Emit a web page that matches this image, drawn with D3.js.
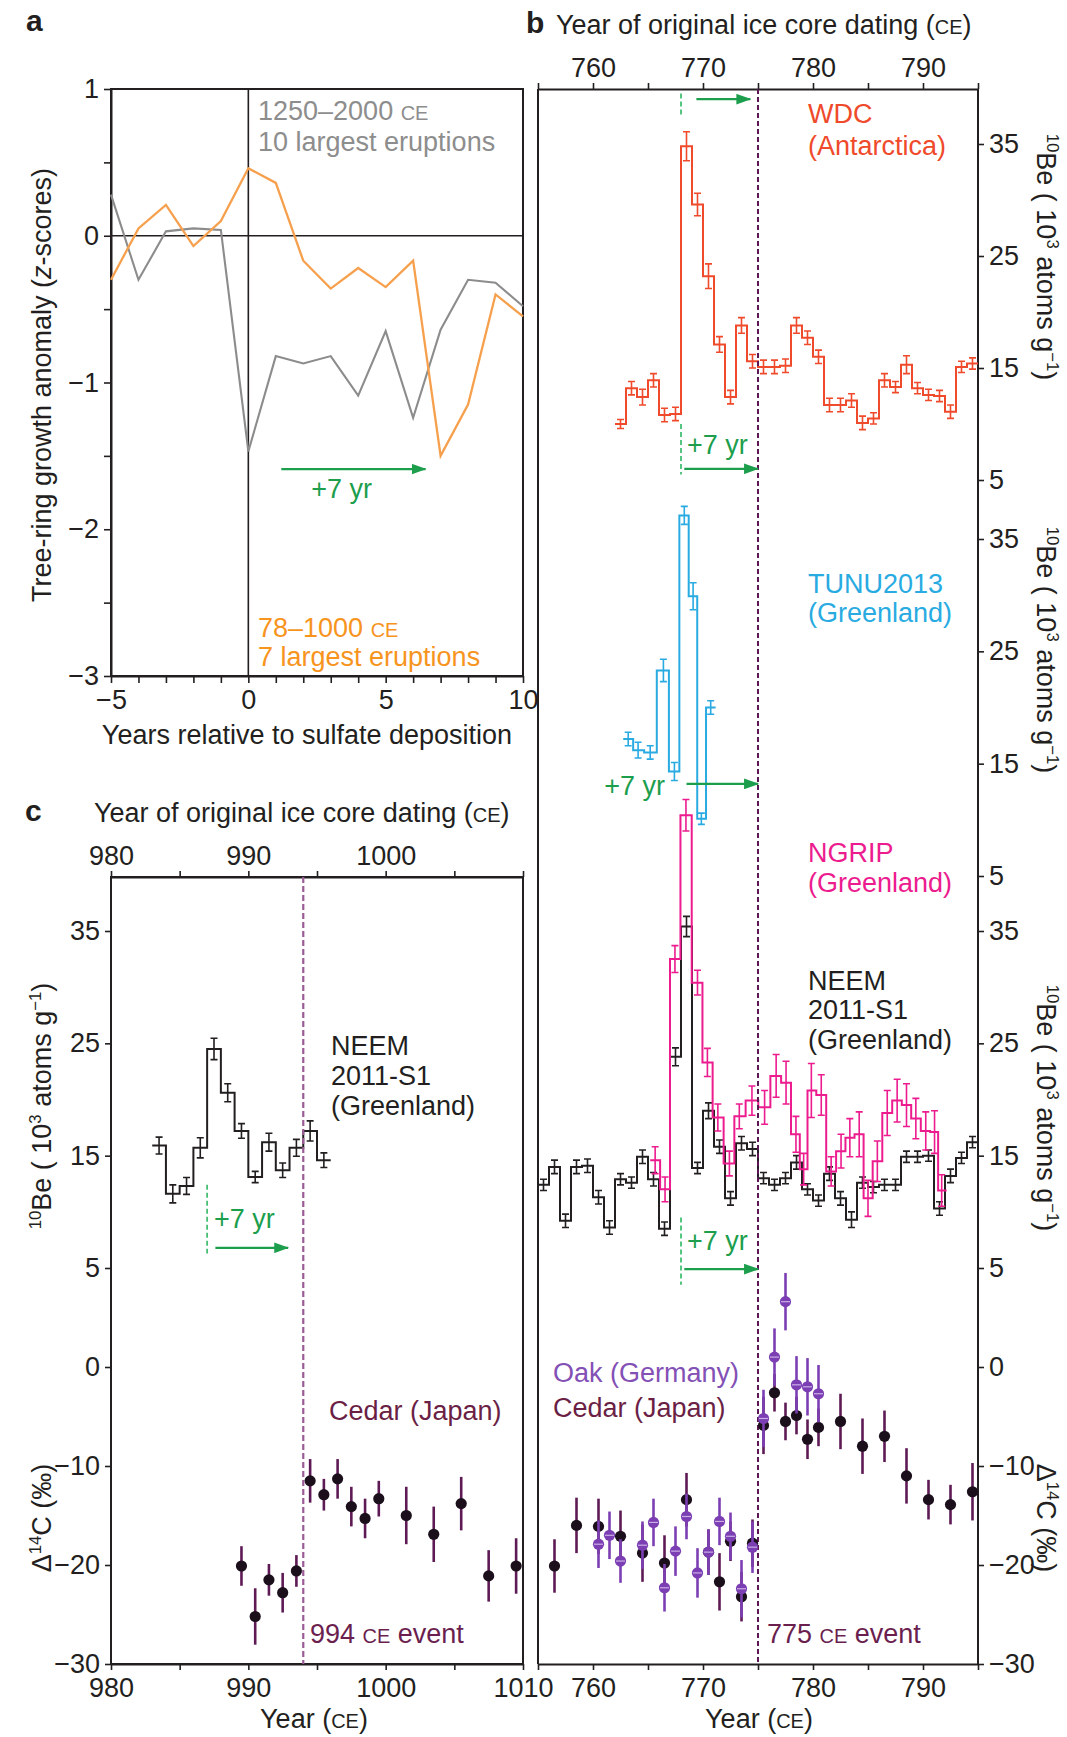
<!DOCTYPE html>
<html>
<head>
<meta charset="utf-8">
<script src="https://cdn.jsdelivr.net/npm/d3@7"></script>
<style>
  html, body { margin: 0; padding: 0; background: #fff; }
  svg { display: block; font-family: "Liberation Sans", Arial, Helvetica, sans-serif; }
</style>
</head>
<body>
<svg id="fig" width="1067" height="1737"></svg>
<script>
// ---------------- Panel a: superposed-epoch tree-ring composites (z-scores) ----------------
const epochYears = [-5, -4, -3, -2, -1, 0, 1, 2, 3, 4, 5, 6, 7, 8, 9, 10];
const recentComposite = [0.28, -0.30, 0.03, 0.05, 0.04, -1.47, -0.82, -0.87, -0.82, -1.09, -0.65, -1.24, -0.64, -0.30, -0.32, -0.48];
const earlyComposite = [-0.30, 0.05, 0.21, -0.07, 0.10, 0.46, 0.36, -0.17, -0.36, -0.22, -0.35, -0.17, -1.50, -1.15, -0.40, -0.55];
const epochTicks = [-5, -4, -3, -2, -1, 0, 1, 2, 3, 4, 5, 6, 7, 8, 9, 10];
const epochTickLabels = [-5, 0, 5, 10];
const zTicks = [-3, -2.5, -2, -1.5, -1, -0.5, 0, 0.5, 1];
const zTickLabels = [-3, -2, -1, 0, 1];

// ---------------- Panel b: 10Be records around 775 CE (10^3 atoms g^-1) ----------------
const wdcYears = [762, 763, 764, 765, 766, 767, 768, 769, 770, 771, 772, 773, 774, 775, 776, 777, 778, 779, 780, 781, 782, 783, 784, 785, 786, 787, 788, 789, 790, 791, 792, 793, 794];
const wdcBe = [10.0, 13.2, 12.4, 13.9, 10.8, 10.9, 34.8, 29.6, 23.2, 17.1, 12.4, 18.8, 15.6, 15.1, 15.1, 15.2, 18.8, 17.7, 16.0, 11.7, 11.7, 12.1, 10.1, 10.5, 13.9, 13.3, 15.3, 13.2, 12.6, 12.5, 11.1, 15.1, 15.4];
const wdcErr = [0.4, 0.6, 0.7, 0.6, 0.6, 0.6, 1.3, 1.0, 1.1, 0.7, 0.6, 0.7, 0.6, 0.6, 0.6, 0.6, 0.7, 0.6, 0.6, 0.6, 0.6, 0.6, 0.6, 0.5, 0.6, 0.5, 0.8, 0.5, 0.5, 0.5, 0.6, 0.5, 0.5];

const tunuDates = [763.2, 764.1, 765.2, 766.4, 767.4, 768.3, 769.1, 769.85, 770.7];
const tunuBe = [17.2, 16.2, 16.0, 23.3, 14.3, 37.1, 29.9, 10.1, 20.0];
const tunuErr = [0.6, 0.7, 0.6, 1.0, 0.8, 0.8, 1.2, 0.5, 0.6];

const ngripDates = [765.65, 766.55, 767.45, 768.45, 769.5, 770.4, 771.35, 772.4, 773.3, 774.45, 775.6, 776.65, 777.55, 778.45, 779.15, 779.85, 780.75, 781.65, 782.55, 783.35, 784.2, 785.0, 785.85, 786.75, 787.65, 788.5, 789.35, 790.25, 791.05, 791.7];
const ngripBe = [14.6, 12.0, 32.5, 45.3, 30.4, 23.3, 18.4, 14.3, 18.5, 19.9, 19.3, 22.1, 21.5, 16.9, 13.8, 20.8, 20.4, 13.6, 15.4, 16.6, 16.9, 11.2, 14.5, 18.8, 19.9, 19.5, 18.3, 17.2, 17.1, 11.9];
const ngripErr = [1.2, 1.1, 1.2, 1.4, 1.1, 1.25, 1.2, 1.1, 1.1, 1.3, 1.5, 1.9, 1.9, 1.6, 1.4, 2.4, 1.8, 1.3, 1.5, 1.7, 2.0, 1.6, 1.8, 2.0, 1.9, 1.9, 1.8, 1.7, 1.9, 1.4];

const neemYears = [755, 756, 757, 758, 759, 760, 761, 762, 763, 764, 765, 766, 767, 768, 769, 770, 771, 772, 773, 774, 775, 776, 777, 778, 779, 780, 781, 782, 783, 784, 785, 786, 787, 788, 789, 790, 791, 792, 793, 794];
const neemBe = [12.4, 14.0, 9.2, 14.0, 14.1, 11.3, 8.6, 12.9, 12.6, 14.9, 12.9, 8.5, 23.8, 35.4, 13.9, 19.0, 15.8, 11.2, 16.1, 15.6, 13.0, 12.4, 13.0, 14.4, 12.0, 11.0, 13.4, 11.2, 9.3, 12.6, 12.2, 12.4, 12.4, 14.9, 14.9, 15.0, 10.3, 13.2, 14.8, 16.2];
const neemErr = [0.5, 0.6, 0.6, 0.6, 0.6, 0.6, 0.6, 0.5, 0.5, 0.6, 0.6, 0.6, 0.8, 0.9, 0.5, 0.7, 0.6, 0.6, 0.6, 0.6, 0.5, 0.5, 0.5, 0.6, 0.5, 0.5, 0.6, 0.6, 0.7, 0.5, 0.5, 0.5, 0.5, 0.5, 0.5, 0.5, 0.6, 0.6, 0.5, 0.5];

// Tree-ring radiocarbon, Δ14C (‰)
const cedarYears = [756, 758, 760, 762, 764, 766, 768, 770, 771, 772, 773, 774, 775, 776, 777, 778, 779, 780, 782, 784, 786, 788, 790, 792, 794];
const cedarD14C = [-20.1, -16.0, -16.1, -17.1, -18.8, -19.8, -13.4, -18.7, -21.7, -17.6, -23.2, -17.8, -5.9, -2.6, -5.5, -4.9, -7.3, -6.1, -5.5, -8.0, -7.0, -11.0, -13.4, -13.9, -12.6];
const cedarErr = [2.7, 2.8, 2.8, 2.6, 2.9, 2.8, 2.7, 2.3, 2.9, 2.0, 2.5, 2.4, 2.9, 1.9, 1.9, 1.9, 2.0, 1.9, 2.8, 2.8, 2.6, 2.8, 2.0, 2.0, 2.9];

const oakYears = [760, 761, 762, 764, 765, 766, 767, 768, 769, 770, 771, 772, 773, 774, 775, 776, 777, 778, 779, 780];
const oakD14C = [-17.9, -17.0, -19.6, -18.0, -15.7, -22.3, -18.6, -15.1, -20.8, -18.7, -15.6, -17.1, -22.4, -18.2, -5.2, 1.0, 6.6, -1.8, -2.0, -2.7];
const oakErr = [2.4, 2.4, 2.2, 2.4, 2.4, 2.4, 2.5, 2.3, 2.5, 2.3, 2.4, 2.4, 2.9, 2.6, 2.9, 2.9, 2.9, 2.9, 2.9, 2.9];

const yearTicksB = [755, 760, 765, 770, 775, 780, 785, 790, 795];
const yearLabelsB = [760, 770, 780, 790];
const beTicks = [5, 15, 25, 35];
const d14cTicks = [0, -10, -20, -30];

// ---------------- Panel c: 10Be and Δ14C around 994 CE ----------------
const neemCYears = [983, 984, 985, 986, 987, 988, 989, 990, 991, 992, 993, 994, 995];
const neemCBe = [15.9, 11.6, 12.3, 15.7, 24.5, 20.6, 17.2, 13.1, 16.2, 13.7, 15.7, 17.2, 14.6];
const neemCErr = [0.75, 0.8, 0.75, 0.9, 0.95, 0.8, 0.65, 0.5, 0.8, 0.65, 0.75, 0.9, 0.65];

const cedarCYears = [989, 990, 991, 992, 993, 994, 995, 996, 997, 998, 999, 1001, 1003, 1005, 1007, 1009];
const cedarCD14C = [-20.1, -25.2, -21.5, -22.8, -20.6, -11.5, -12.9, -11.3, -14.1, -15.3, -13.3, -15.0, -16.9, -13.8, -21.1, -20.1];
const cedarCErr = [2.0, 2.85, 1.6, 2.0, 1.6, 2.2, 1.6, 2.0, 2.0, 2.0, 1.8, 2.9, 2.8, 2.7, 2.6, 2.8];

const yearTicksC = [980, 985, 990, 995, 1000, 1005, 1010];
const yearTopLabelsC = [980, 990, 1000];
const yearBottomLabelsC = [980, 990, 1000, 1010];

// ---------------- Drawing ----------------
const svg = d3.select('#fig');
const FONT = 27;
const INK = '#231f20';
const GREEN = '#1c9e4c';
const GREEN_DASH = '#45bf74';
const fmt = d3.format('d');

// scales
const xA = d3.scaleLinear([-5, 10], [111, 523]);
const yA = d3.scaleLinear([-3, 1], [676, 89]);
const xB = d3.scaleLinear([755, 795], [538, 978]);
const yW = d3.scaleLinear([5, 35], [480, 144]);
const yT = d3.scaleLinear([5, 35], [876, 539]);
const yN = d3.scaleLinear([5, 35], [1268, 931]);
const yC = d3.scaleLinear([-30, 0], [1664, 1367]);
const xC = d3.scaleLinear([980, 1010], [111, 523]);

const defs = svg.append('defs');
defs.append('marker')
  .attr('id', 'arrowGreen').attr('viewBox', '0 0 14 10').attr('refX', 13).attr('refY', 5)
  .attr('markerWidth', 15).attr('markerHeight', 11).attr('markerUnits', 'userSpaceOnUse').attr('orient', 'auto')
  .append('path').attr('d', 'M0,0L14,5L0,10Z').attr('fill', GREEN);

function drawAxis(gen, tx, ty) {
  const g = svg.append('g').attr('transform', `translate(${tx},${ty})`).call(gen);
  g.attr('font-size', null).attr('font-family', null);
  g.select('.domain').attr('stroke', INK).attr('stroke-width', 2);
  g.selectAll('.tick line').attr('stroke', INK).attr('stroke-width', 1.6);
  g.selectAll('.tick text').attr('fill', INK).style('font-size', FONT + 'px');
  return g;
}

function rich(sel, parts, size) {
  let shift = 0;
  parts.forEach(p => {
    if (typeof p === 'string') p = { t: p };
    const ts = sel.append('tspan').text(p.t);
    if (p.it) ts.style('font-style', 'italic');
    if (p.sc) ts.style('font-size', (size * 0.74) + 'px');
    if (p.sup) {
      ts.style('font-size', (size * 0.62) + 'px').attr('dy', -size * 0.38);
      shift = size * 0.38;
    } else if (shift) {
      ts.attr('dy', shift);
      shift = 0;
    }
  });
  return sel;
}

function label(x, y, parts, color, opts = {}) {
  const t = svg.append('text')
    .attr('x', x).attr('y', y)
    .attr('fill', color || INK)
    .style('font-size', (opts.size || FONT) + 'px')
    .attr('text-anchor', opts.anchor || 'start');
  if (opts.bold) t.style('font-weight', 'bold');
  return rich(t, Array.isArray(parts) ? parts : [parts], opts.size || FONT);
}

function rotLabel(x, y, angle, parts, color) {
  const t = svg.append('text')
    .attr('transform', `translate(${x},${y}) rotate(${angle})`)
    .attr('text-anchor', 'middle')
    .attr('fill', color || INK)
    .style('font-size', FONT + 'px');
  return rich(t, parts, FONT);
}

function stepPath(xs, vs, xScale, yScale, pad) {
  const pts = [[xs[0] - pad, vs[0]], ...xs.map((x, i) => [x, vs[i]]), [xs[xs.length - 1] + pad, vs[vs.length - 1]]];
  return d3.line().x(d => xScale(d[0])).y(d => yScale(d[1])).curve(d3.curveStep)(pts);
}

function stepSeries(xs, vs, es, xScale, yScale, color, pad) {
  const g = svg.append('g');
  g.append('path')
    .attr('d', stepPath(xs, vs, xScale, yScale, pad))
    .attr('fill', 'none').attr('stroke', color).attr('stroke-width', 2);
  g.selectAll('path.err').data(xs).join('path').attr('class', 'err')
    .attr('d', (x, i) => {
      const px = xScale(x), y1 = yScale(vs[i] - es[i]), y2 = yScale(vs[i] + es[i]);
      return `M${px},${y1}V${y2}M${px - 3.5},${y1}H${px + 3.5}M${px - 3.5},${y2}H${px + 3.5}`;
    })
    .attr('fill', 'none').attr('stroke', color).attr('stroke-width', 1.6);
}

function dotSeries(xs, vs, es, xScale, yScale, dotColor, barColor, oak) {
  const g = svg.append('g');
  g.selectAll('line').data(xs).join('line')
    .attr('x1', x => xScale(x)).attr('x2', x => xScale(x))
    .attr('y1', (x, i) => yScale(vs[i] - es[i])).attr('y2', (x, i) => yScale(vs[i] + es[i]))
    .attr('stroke', barColor).attr('stroke-width', 2.6);
  g.selectAll('circle').data(xs).join('circle')
    .attr('cx', x => xScale(x)).attr('cy', (x, i) => yScale(vs[i]))
    .attr('r', 5.6).attr('fill', dotColor);
  if (oak) {
    g.selectAll('path.mid').data(xs).join('path').attr('class', 'mid')
      .attr('d', (x, i) => `M${xScale(x) - 4.5},${yScale(vs[i])}H${xScale(x) + 4.5}`)
      .attr('stroke', '#c9aee6').attr('stroke-width', 1.2);
  }
}

function arrow(x1, x2, y) {
  svg.append('line').attr('x1', x1).attr('x2', x2).attr('y1', y).attr('y2', y)
    .attr('stroke', GREEN).attr('stroke-width', 2.2).attr('marker-end', 'url(#arrowGreen)');
}
function greenDash(x, y1, y2) {
  svg.append('line').attr('x1', x).attr('x2', x).attr('y1', y1).attr('y2', y2)
    .attr('stroke', GREEN_DASH).attr('stroke-width', 1.8).attr('stroke-dasharray', '5,3');
}

const CE = { t: 'CE', sc: true };
const beTitle = [{ t: '10', sup: true }, 'Be ( 10', { t: '3', sup: true }, ' atoms g', { t: '\u22121', sup: true }, ')'];
const d14cTitle = ['\u0394', { t: '14', sup: true }, 'C (\u2030)'];

// ===== Panel a =====
label(26, 31, 'a', INK, { bold: true, size: 30 });
svg.append('rect').attr('x', xA(-5)).attr('y', yA(1)).attr('width', xA(10) - xA(-5)).attr('height', yA(-3) - yA(1))
  .attr('fill', 'none').attr('stroke', INK).attr('stroke-width', 2);
svg.append('line').attr('x1', xA(-5)).attr('x2', xA(10)).attr('y1', yA(0)).attr('y2', yA(0)).attr('stroke', INK).attr('stroke-width', 1.6);
svg.append('line').attr('x1', xA(0)).attr('x2', xA(0)).attr('y1', yA(1)).attr('y2', yA(-3)).attr('stroke', INK).attr('stroke-width', 1.6);

drawAxis(d3.axisLeft(yA).tickValues(zTicks).tickSize(7).tickSizeOuter(0).tickPadding(5)
  .tickFormat(d => zTickLabels.includes(d) ? fmt(d) : ''), xA(-5), 0);
drawAxis(d3.axisBottom(xA).tickValues(epochTicks).tickSize(7).tickSizeOuter(0).tickPadding(7)
  .tickFormat(d => epochTickLabels.includes(d) ? fmt(d) : ''), 0, yA(-3));

const lineA = d3.line().x((d, i) => xA(epochYears[i])).y(d => yA(d));
svg.append('path').attr('d', lineA(recentComposite)).attr('fill', 'none').attr('stroke', '#8c8c8c').attr('stroke-width', 2.1);
svg.append('path').attr('d', lineA(earlyComposite)).attr('fill', 'none').attr('stroke', '#f6a04d').attr('stroke-width', 2.3);

label(258, 120, ['1250\u20132000 ', CE], '#8d8d8d');
label(258, 151, '10 largest eruptions', '#8d8d8d');
label(258, 637, ['78\u20131000 ', CE], '#f7941d');
label(258, 666, '7 largest eruptions', '#f7941d');
arrow(xA(1.2), xA(6.45), yA(-1.59));
label(xA(3.4), yA(-1.79), '+7 yr', GREEN, { anchor: 'middle' });
label(307, 744, 'Years relative to sulfate deposition', INK, { anchor: 'middle' });
rotLabel(51, 385, -90, ['Tree-ring growth anomaly (', { t: 'z', it: true }, '-scores)']);

// ===== Panel b =====
label(526, 33, 'b', INK, { bold: true, size: 30 });
label(556, 34, ['Year of original ice core dating (', CE, ')']);

drawAxis(d3.axisTop(xB).tickValues(yearTicksB).tickSize(6).tickSizeOuter(0).tickPadding(6)
  .tickFormat(d => yearLabelsB.includes(d) ? fmt(d) : ''), 0, 89);
drawAxis(d3.axisBottom(xB).tickValues(yearTicksB).tickSize(6).tickSizeOuter(0).tickPadding(8)
  .tickFormat(d => yearLabelsB.includes(d) ? fmt(d) : ''), 0, 1664);
svg.append('line').attr('x1', xB(755)).attr('x2', xB(755)).attr('y1', 89).attr('y2', 1664).attr('stroke', INK).attr('stroke-width', 2);
svg.append('line').attr('x1', xB(795)).attr('x2', xB(795)).attr('y1', 89).attr('y2', 1664).attr('stroke', INK).attr('stroke-width', 2);
[[yW, beTicks], [yT, beTicks], [yN, beTicks], [yC, d14cTicks]].forEach(([s, t]) => {
  const g = drawAxis(d3.axisRight(s).tickValues(t).tickSize(6).tickSizeOuter(0).tickPadding(5).tickFormat(fmt), xB(795), 0);
  g.select('.domain').remove();
});

// step records
stepSeries(wdcYears.map(y => y + 0.5), wdcBe, wdcErr, xB, yW, '#ef4a2b', 0.5);
stepSeries(tunuDates, tunuBe, tunuErr, xB, yT, '#29abe2', 0.45);
stepSeries(neemYears.map(y => y + 0.5), neemBe, neemErr, xB, yN, INK, 0.5);
stepSeries(ngripDates, ngripBe, ngripErr, xB, yN, '#ec1c8f', 0.45);

// 775 CE event line
svg.append('line').attr('x1', xB(775)).attr('x2', xB(775)).attr('y1', 89).attr('y2', 1664)
  .attr('stroke', '#5b1752').attr('stroke-width', 2).attr('stroke-dasharray', '5,3');

// +7 yr annotations
greenDash(xB(768), yW(39.5), yW(37.5));
arrow(xB(769.4), xB(774.3), yW(39.0));
greenDash(xB(768), yW(10.0), yW(5.5));
label(xB(768.55), yW(7.3), '+7 yr', GREEN);
arrow(xB(768.3), xB(775), yW(6.0));
label(xB(766.55), yT(12.2), '+7 yr', GREEN, { anchor: 'end' });
arrow(xB(768.5), xB(775), yT(13.2));
greenDash(xB(768), yN(9.5), yN(3.5));
label(xB(768.55), yN(6.6), '+7 yr', GREEN);
arrow(xB(768.3), xB(775), yN(4.9));

// radiocarbon
dotSeries(cedarYears.map(y => y + 0.5), cedarD14C, cedarErr, xB, yC, '#1c0f1c', '#5e1a55', false);
dotSeries(oakYears.map(y => y + 0.5), oakD14C, oakErr, xB, yC, '#7c3fb3', '#7c3fb3', true);

// series labels
label(808, 123, 'WDC', '#ef4a2b');
label(808, 155, '(Antarctica)', '#ef4a2b');
label(808, 593, 'TUNU2013', '#29abe2');
label(808, 622, '(Greenland)', '#29abe2');
label(808, 862, 'NGRIP', '#ec1c8f');
label(808, 892, '(Greenland)', '#ec1c8f');
label(808, 990, 'NEEM');
label(808, 1019, '2011-S1');
label(808, 1049, '(Greenland)');
label(553, 1382, 'Oak (Germany)', '#8350b5');
label(553, 1417, 'Cedar (Japan)', '#6b1f45');
label(767, 1643, ['775 ', CE, ' event'], '#6b1f4f');
label(759, 1728, ['Year (', CE, ')'], INK, { anchor: 'middle' });

rotLabel(1037, 257, 90, beTitle);
rotLabel(1037, 650, 90, beTitle);
rotLabel(1037, 1108, 90, beTitle);
rotLabel(1037, 1518, 90, d14cTitle);

// ===== Panel c =====
label(25, 821, 'c', INK, { bold: true, size: 30 });
label(94, 822, ['Year of original ice core dating (', CE, ')']);
svg.append('rect').attr('x', xC(980)).attr('y', 877).attr('width', xC(1010) - xC(980)).attr('height', 1664 - 877)
  .attr('fill', 'none').attr('stroke', INK).attr('stroke-width', 2);
drawAxis(d3.axisTop(xC).tickValues(yearTicksC).tickSize(6).tickSizeOuter(0).tickPadding(6)
  .tickFormat(d => yearTopLabelsC.includes(d) ? fmt(d) : ''), 0, 877);
drawAxis(d3.axisBottom(xC).tickValues(yearTicksC).tickSize(6).tickSizeOuter(0).tickPadding(8)
  .tickFormat(d => yearBottomLabelsC.includes(d) ? fmt(d) : ''), 0, 1664);
[[yN, beTicks], [yC, d14cTicks]].forEach(([s, t]) => {
  const g = drawAxis(d3.axisLeft(s).tickValues(t).tickSize(6).tickSizeOuter(0).tickPadding(5).tickFormat(fmt), xC(980), 0);
  g.select('.domain').remove();
});

stepSeries(neemCYears.map(y => y + 0.5), neemCBe, neemCErr, xC, yN, INK, 0.5);
svg.append('line').attr('x1', xC(994)).attr('x2', xC(994)).attr('y1', 877).attr('y2', 1664)
  .attr('stroke', '#9b5b96').attr('stroke-width', 2.2).attr('stroke-dasharray', '6,3');
greenDash(xC(987), yN(12.4), yN(6.3));
label(xC(987.5), yN(8.6), '+7 yr', GREEN);
arrow(xC(987.6), xC(992.9), yN(6.8));
dotSeries(cedarCYears.map(y => y + 0.5), cedarCD14C, cedarCErr, xC, yC, '#1c0f1c', '#5e1a55', false);

label(331, 1055, 'NEEM');
label(331, 1085, '2011-S1');
label(331, 1115, '(Greenland)');
label(329, 1420, 'Cedar (Japan)', '#6b1f45');
label(310, 1643, ['994 ', CE, ' event'], '#6b1f4f');
label(314, 1728, ['Year (', CE, ')'], INK, { anchor: 'middle' });
rotLabel(51, 1106, -90, beTitle);
rotLabel(51, 1518, -90, d14cTitle);
</script>
</body>
</html>
